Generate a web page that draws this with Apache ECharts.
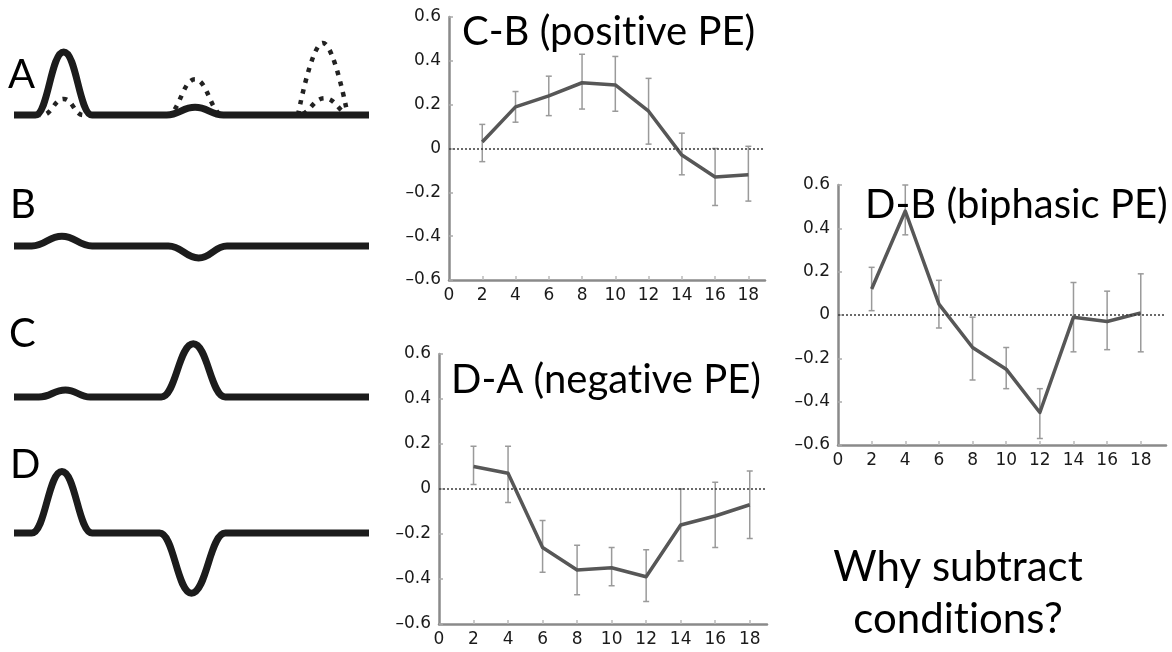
<!DOCTYPE html>
<html>
<head>
<meta charset="utf-8">
<script src="https://cdn.jsdelivr.net/npm/echarts@6.0.0/dist/echarts.min.js"></script>
<style>
  html, body { margin: 0; padding: 0; background: #fff; }
  #main { width: 1172px; height: 652px; }
</style>
</head>
<body>
<div id="main"></div>
<script>
// schematic waveforms (time 0..100, amplitude in arbitrary units)
const waveA = [[0, 0], [6, 0], [14, 0.9], [22, 0], [43, 0], [51, 0.11], [59, 0], [100, 0]];
const waveADotSmall = [[0, 0], [8, 0], [14, 0.23], [19.5, 0], [43, 0], [51, 0.51], [59, 0], [80, 0], [87.5, 0.24], [95, 0], [100, 0]];
const waveADotTall = [[80, 0], [87, 1.03], [94, 0]];
const waveB = [[0, 0], [5, 0], [13.5, 0.14], [22, 0], [43.5, 0], [52, -0.17], [60, 0], [100, 0]];
const waveC = [[0, 0], [7, 0], [14.5, 0.1], [21.5, 0], [41.5, 0], [50.5, 0.76], [59.5, 0], [100, 0]];
const waveD = [[0, 0], [5, 0], [13.5, 0.88], [22, 0], [41, 0], [50, -0.86], [59.5, 0], [100, 0]];

// difference curves
const times = [2, 4, 6, 8, 10, 12, 14, 16, 18];
const xLabels = [0, 2, 4, 6, 8, 10, 12, 14, 16, 18];
const cbMean = [0.03, 0.19, 0.24, 0.30, 0.29, 0.17, -0.03, -0.13, -0.12];
const cbHi = [0.11, 0.26, 0.33, 0.43, 0.42, 0.32, 0.07, 0.00, 0.01];
const cbLo = [-0.06, 0.12, 0.15, 0.18, 0.17, 0.02, -0.12, -0.26, -0.24];
const daMean = [0.10, 0.07, -0.26, -0.36, -0.35, -0.39, -0.16, -0.12, -0.07];
const daHi = [0.19, 0.19, -0.14, -0.25, -0.26, -0.27, 0.00, 0.03, 0.08];
const daLo = [0.02, -0.06, -0.37, -0.47, -0.43, -0.50, -0.32, -0.26, -0.22];
const dbMean = [0.12, 0.48, 0.05, -0.15, -0.25, -0.45, -0.01, -0.03, 0.01];
const dbHi = [0.22, 0.60, 0.16, -0.01, -0.15, -0.34, 0.15, 0.11, 0.19];
const dbLo = [0.02, 0.37, -0.06, -0.30, -0.34, -0.57, -0.17, -0.16, -0.17];

const chart = echarts.init(document.getElementById('main'));

const TITLE_FONT = 'Lato, "Open Sans", sans-serif';
const baselines = [115, 246, 397, 533];

const waveGrids = baselines.map(b => ({ left: 14, width: 355, top: b - 84, height: 168 }));
const plotGrids = [
  { left: 449, top: 17, width: 316, height: 263 },
  { left: 439, top: 354, width: 328, height: 270 },
  { left: 838, top: 185, width: 328, height: 260 }
];
const plotMax = [19, 19, 19.5];

const xAxes = [];
const yAxes = [];
waveGrids.forEach((g, i) => {
  xAxes.push({ gridIndex: i, type: 'value', min: 0, max: 100, show: false });
  yAxes.push({ gridIndex: i, type: 'value', min: -1.2, max: 1.2, show: false });
});
plotGrids.forEach((g, i) => {
  const gi = i + 4;
  xAxes.push({
    gridIndex: gi, type: 'value', min: 0, max: plotMax[i], interval: 2,
    splitLine: { show: false },
    axisLine: { onZero: false, lineStyle: { color: '#8a8a8a', width: 2.5 } },
    axisTick: { inside: true, length: 4, customValues: times, lineStyle: { color: '#bbb', width: 1.5 } },
    axisLabel: { customValues: xLabels, color: '#1a1a1a', fontSize: 17, fontFamily: 'DejaVu Sans', margin: 7 }
  });
  yAxes.push({
    gridIndex: gi, type: 'value', min: -0.6, max: 0.6, interval: 0.2,
    splitLine: { show: false },
    axisLine: { show: true, lineStyle: { color: '#8a8a8a', width: 2.5 } },
    axisTick: { show: true, inside: true, length: 4, lineStyle: { color: '#aaa', width: 1.5 } },
    axisLabel: {
      color: '#1a1a1a', fontSize: 17, fontFamily: 'DejaVu Sans', margin: 8,
      formatter: v => Math.abs(v) < 1e-9 ? '0' : (v < 0 ? '\u2013' : '') + Math.abs(v).toFixed(1)
    }
  });
});

const series = [];
function wave(idx, data, dotted) {
  series.push({
    type: 'line', xAxisIndex: idx, yAxisIndex: idx, data: data,
    smooth: 0.45, smoothMonotone: 'x', symbol: 'none', silent: true, clip: false,
    z: dotted ? 1 : 2,
    lineStyle: dotted
      ? { color: '#222', width: 4.5, type: [4.5, 6.5], cap: 'butt' }
      : { color: '#1c1c1c', width: 7, cap: 'butt', join: 'round' }
  });
}
wave(0, waveADotSmall, true);
wave(0, waveADotTall, true);
wave(0, waveA, false);
wave(1, waveB, false);
wave(2, waveC, false);
wave(3, waveD, false);

function plot(i, mean, lo, hi) {
  const idx = i + 4;
  series.push({
    type: 'custom', xAxisIndex: idx, yAxisIndex: idx, silent: true, z: 1,
    data: times.map((t, k) => [t, lo[k], hi[k]]),
    renderItem: (params, api) => {
      const top = api.coord([api.value(0), api.value(2)]);
      const bot = api.coord([api.value(0), api.value(1)]);
      const w = 3;
      const st = { stroke: '#9a9a9a', lineWidth: 1.5 };
      return {
        type: 'group', children: [
          { type: 'line', shape: { x1: top[0], y1: top[1], x2: bot[0], y2: bot[1] }, style: st },
          { type: 'line', shape: { x1: top[0] - w, y1: top[1], x2: top[0] + w, y2: top[1] }, style: st },
          { type: 'line', shape: { x1: bot[0] - w, y1: bot[1], x2: bot[0] + w, y2: bot[1] }, style: st }
        ]
      };
    }
  });
  series.push({
    type: 'line', xAxisIndex: idx, yAxisIndex: idx, silent: true, z: 3,
    data: times.map((t, k) => [t, mean[k]]),
    symbol: 'none',
    lineStyle: { color: '#575757', width: 3.5, join: 'round' },
    markLine: {
      silent: true, symbol: ['none', 'none'], label: { show: false },
      lineStyle: { color: '#3a3a3a', width: 1.5, type: [2, 2] },
      data: [{ yAxis: 0 }]
    }
  });
}
plot(0, cbMean, cbLo, cbHi);
plot(1, daMean, daLo, daHi);
plot(2, dbMean, dbLo, dbHi);

function txt(text, x, y, size, align) {
  return {
    type: 'text', x: x, y: y, silent: true, z: 10,
    style: {
      text: text, font: size + 'px ' + TITLE_FONT, fill: '#000',
      textAlign: align || 'left', textVerticalAlign: 'top', lineHeight: 52
    }
  };
}

// \u200C keeps Lato from joining "ti" into a ligature
chart.setOption({
  backgroundColor: '#fff',
  animation: false,
  grid: waveGrids.concat(plotGrids),
  xAxis: xAxes,
  yAxis: yAxes,
  series: series,
  graphic: [
    txt('A', 8, 49, 40),
    txt('B', 10, 179, 40),
    txt('C', 9, 308, 40),
    txt('D', 10, 439, 40),
    txt('C-B (posit\u200Cive PE)', 462, 6, 40),
    txt('D-A (negat\u200Cive PE)', 451, 354, 40),
    txt('D-B (biphasic PE)', 865, 179, 40),
    txt('Why subtract\ncondit\u200Cions?', 958, 541, 42, 'center')
  ]
});
</script>
</body>
</html>
